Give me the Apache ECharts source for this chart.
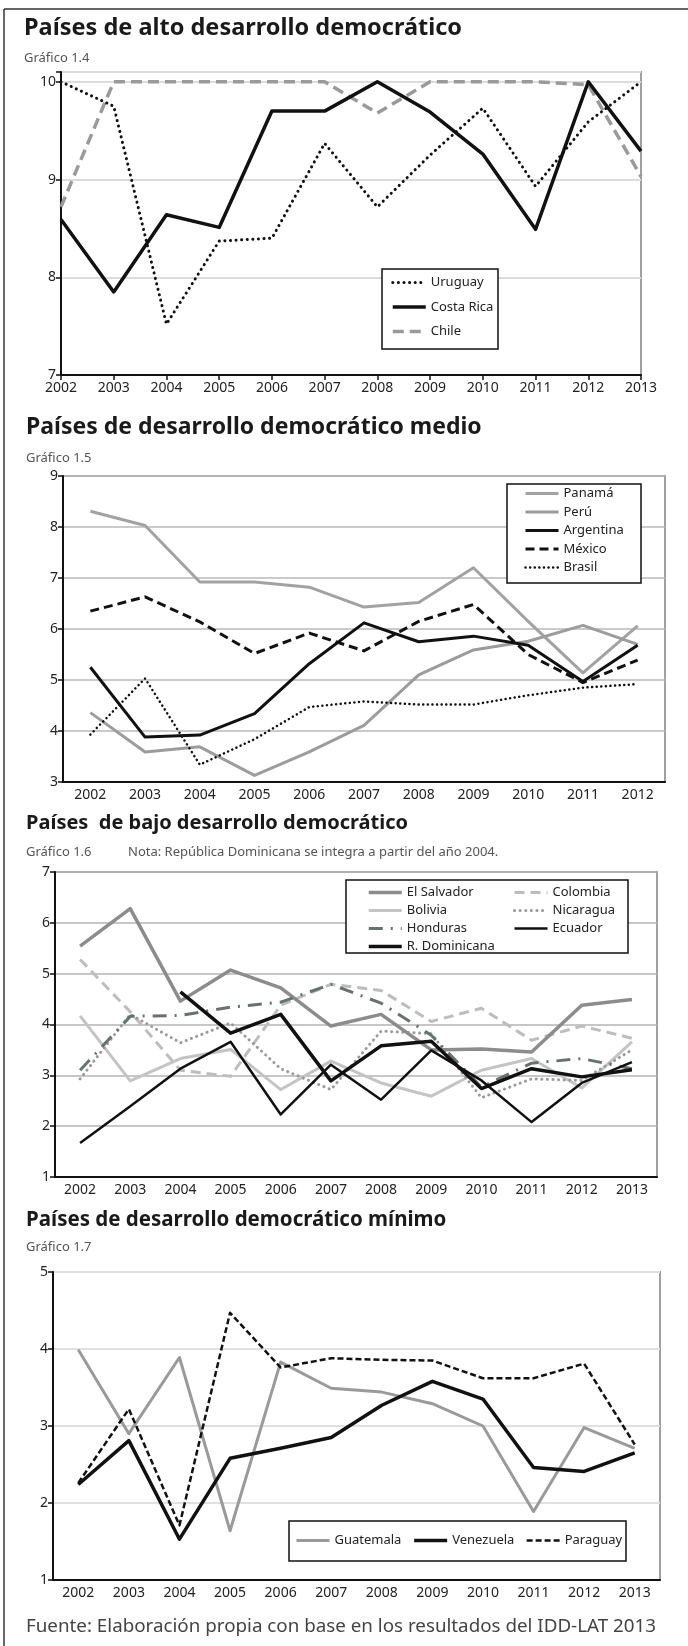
<!DOCTYPE html>
<html>
<head>
<meta charset="utf-8">
<title>Desarrollo democrático</title>
<script src="https://cdn.jsdelivr.net/npm/echarts@6/dist/echarts.min.js"></script>
<style>
html, body { margin: 0; padding: 0; background: #fff; }
#main { width: 688px; height: 1646px; }
</style>
</head>
<body>
<div id="main"></div>
<script>
// categorias
const years12 = ['2002', '2003', '2004', '2005', '2006', '2007', '2008', '2009', '2010', '2011', '2012', '2013'];
const years11 = ['2002', '2003', '2004', '2005', '2006', '2007', '2008', '2009', '2010', '2011', '2012'];

// Gráfico 1.4 - alto desarrollo
const uruguay = [10.0, 9.75, 7.52, 8.37, 8.40, 9.37, 8.72, 9.25, 9.73, 8.93, 9.59, 10.0];
const costaRica = [8.59, 7.85, 8.64, 8.51, 9.70, 9.70, 10.0, 9.69, 9.26, 8.49, 10.0, 9.29];
const chile = [8.72, 10.0, 10.0, 10.0, 10.0, 10.0, 9.68, 10.0, 10.0, 10.0, 9.97, 9.03];

// Gráfico 1.5 - desarrollo medio
const panama = [8.31, 8.03, 6.92, 6.92, 6.82, 6.43, 6.52, 7.20, 6.15, 5.14, 6.06];
const peru = [4.36, 3.59, 3.69, 3.13, 3.59, 4.11, 5.10, 5.59, 5.76, 6.07, 5.70];
const argentina = [5.25, 3.88, 3.92, 4.34, 5.32, 6.12, 5.75, 5.86, 5.68, 4.97, 5.68];
const mexico = [6.35, 6.63, 6.14, 5.52, 5.92, 5.57, 6.15, 6.48, 5.50, 4.95, 5.39];
const brasil = [3.93, 5.03, 3.34, 3.84, 4.47, 4.58, 4.52, 4.52, 4.70, 4.85, 4.92];

// Gráfico 1.6 - bajo desarrollo
const elSalvador = [5.54, 6.28, 4.46, 5.07, 4.72, 3.97, 4.20, 3.50, 3.52, 3.46, 4.38, 4.49];
const colombia = [5.28, 4.25, 3.10, 2.98, 4.38, 4.79, 4.67, 4.06, 4.32, 3.69, 3.97, 3.73];
const bolivia = [4.17, 2.89, 3.33, 3.51, 2.72, 3.28, 2.85, 2.59, 3.10, 3.33, 2.75, 3.66];
const nicaragua = [2.93, 4.20, 3.64, 4.03, 3.13, 2.72, 3.87, 3.82, 2.56, 2.93, 2.90, 3.50];
const honduras = [3.10, 4.16, 4.18, 4.34, 4.44, 4.79, 4.42, 3.79, 2.77, 3.24, 3.33, 3.13];
const ecuador = [1.67, 2.39, 3.13, 3.66, 2.23, 3.21, 2.52, 3.49, 2.90, 2.08, 2.85, 3.26];
const rDominicana = [null, null, 4.64, 3.83, 4.20, 2.89, 3.58, 3.67, 2.74, 3.13, 2.97, 3.11];

// Gráfico 1.7 - desarrollo mínimo
const guatemala = [3.99, 2.90, 3.89, 1.64, 3.83, 3.49, 3.44, 3.29, 3.00, 1.89, 2.98, 2.71];
const venezuela = [2.24, 2.81, 1.53, 2.58, 2.71, 2.85, 3.27, 3.58, 3.35, 2.46, 2.41, 2.65];
const paraguay = [2.26, 3.22, 1.71, 4.47, 3.76, 3.88, 3.86, 3.85, 3.62, 3.62, 3.81, 2.76];

const FONT = '"Noto Sans", "Open Sans", sans-serif';

const chart = echarts.init(document.getElementById('main'));

function line(name, data, idx, color, width, type, cap) {
  return {
    name: name,
    type: 'line',
    xAxisIndex: idx,
    yAxisIndex: idx,
    data: data,
    symbol: 'none',
    animation: false,
    lineStyle: { color: color, width: width, type: type || 'solid', cap: cap || 'butt', join: 'round' },
    itemStyle: { color: color }
  };
}

function xAxis(idx, data, gap) {
  return {
    type: 'category',
    gridIndex: idx,
    data: data,
    boundaryGap: gap,
    axisLine: { lineStyle: { color: '#111', width: 2 } },
    axisTick: { length: 5, lineStyle: { color: '#111', width: 1.5 } },
    axisLabel: { color: '#222', fontSize: 14, fontFamily: FONT, margin: 6, interval: 0 },
    splitLine: { show: false }
  };
}

function yAxis(idx, min, max, gridColor, gridWidth) {
  return {
    type: 'value',
    gridIndex: idx,
    min: min,
    max: max,
    interval: 1,
    axisLine: { show: true, lineStyle: { color: '#111', width: 2 } },
    axisTick: { show: true, length: 5, lineStyle: { color: '#111', width: 1.5 } },
    axisLabel: {
      color: '#222', fontSize: 14, fontFamily: FONT, margin: 5,
      formatter: function (v) { return Number.isInteger(v) ? String(v) : ''; }
    },
    splitLine: { show: true, lineStyle: { color: gridColor, width: gridWidth } }
  };
}

function legend(names, left, top, gap, orient) {
  return {
    data: names,
    left: left,
    top: top,
    orient: orient || 'vertical',
    padding: 0,
    itemGap: gap,
    itemWidth: 33,
    itemHeight: 14,
    selectedMode: false,
    itemStyle: { opacity: 0, borderWidth: 0 },
    lineStyle: { width: 'inherit' },
    textStyle: { color: '#222', fontSize: 13, fontFamily: FONT }
  };
}

function text(str, x, y, font, fill) {
  return { type: 'text', x: x, y: y, z: 10, style: { text: str, font: font, fill: fill, verticalAlign: 'middle' } };
}

function box(x, y, w, h) {
  return { type: 'rect', z: 3, shape: { x: x, y: y, width: w, height: h }, style: { fill: '#fff', stroke: '#111', lineWidth: 1.5 } };
}

const gridBase = { show: true, borderColor: '#a0a0a0', borderWidth: 2, backgroundColor: 'transparent', containLabel: false };

const option = {
  backgroundColor: '#fff',
  animation: false,
  grid: [
    Object.assign({ left: 61, right: 47, top: 72, height: 303 }, gridBase),
    Object.assign({ left: 63, right: 23, top: 476, height: 306 }, gridBase),
    Object.assign({ left: 55, right: 31, top: 872, height: 305 }, gridBase),
    Object.assign({ left: 53, right: 28, top: 1272, height: 308 }, gridBase)
  ],
  xAxis: [
    xAxis(0, years12, false),
    xAxis(1, years11, true),
    xAxis(2, years12, true),
    xAxis(3, years12, true)
  ],
  yAxis: [
    yAxis(0, 7, 10.1, '#dcdcdc', 2),
    yAxis(1, 3, 9, '#b8b8b8', 1.5),
    yAxis(2, 1, 7, '#b4b4b4', 1.5),
    yAxis(3, 1, 5, '#e0e0e0', 2)
  ],
  legend: [
    legend(['Uruguay', 'Costa Rica', 'Chile'], 391, 276, 11.5),
    legend(['Panamá', 'Perú', 'Argentina', 'México', 'Brasil'], 524, 487, 5.5),
    legend(['El Salvador', 'Bolivia', 'Honduras', 'R. Dominicana'], 367, 886, 5),
    legend(['Colombia', 'Nicaragua', 'Ecuador'], 513, 886, 5),
    legend(['Guatemala', 'Venezuela', 'Paraguay'], 295, 1534, 11, 'horizontal')
  ],
  series: [
    line('Chile', chile, 0, '#9a9a9a', 3.5, [11, 6]),
    line('Uruguay', uruguay, 0, '#111', 3, [0.1, 5.5], 'round'),
    line('Costa Rica', costaRica, 0, '#111', 3.5),

    line('Panamá', panama, 1, '#a2a2a2', 3),
    line('Perú', peru, 1, '#9c9c9c', 3),
    line('Brasil', brasil, 1, '#111', 2.5, [0.1, 4.5], 'round'),
    line('México', mexico, 1, '#111', 3, [9, 5]),
    line('Argentina', argentina, 1, '#111', 3),

    line('Colombia', colombia, 2, '#bdbdbd', 3, [10, 6]),
    line('Bolivia', bolivia, 2, '#c4c4c4', 3),
    line('Nicaragua', nicaragua, 2, '#9a9a9a', 3, [0.1, 5.5], 'round'),
    line('El Salvador', elSalvador, 2, '#8c8c8c', 3.5),
    line('Honduras', honduras, 2, '#687070', 3, [14, 8, 2, 8]),
    line('Ecuador', ecuador, 2, '#111', 2.5),
    line('R. Dominicana', rDominicana, 2, '#111', 3.5),

    line('Guatemala', guatemala, 3, '#9a9a9a', 3),
    line('Paraguay', paraguay, 3, '#111', 2.5, [6, 3]),
    line('Venezuela', venezuela, 3, '#111', 3.5)
  ],
  graphic: [
    { type: 'line', z: 10, shape: { x1: 4, y1: 9, x2: 688, y2: 9 }, style: { stroke: '#333', lineWidth: 1.5 } },
    { type: 'line', z: 10, shape: { x1: 4, y1: 9, x2: 4, y2: 1646 }, style: { stroke: '#333', lineWidth: 1.5 } },

    box(382, 269, 116, 80),
    box(507, 484, 134, 99),
    box(346, 880, 282, 73),
    box(289, 1521, 337, 40),

    text('Países de alto desarrollo democrático', 24, 28, 'bold 23.5px ' + FONT, '#1a1a1a'),
    text('Gráfico 1.4', 24, 58, '13px ' + FONT, '#555'),
    text('Países de desarrollo democrático medio', 26, 427, 'bold 23px ' + FONT, '#1a1a1a'),
    text('Gráfico 1.5', 26, 458, '13px ' + FONT, '#555'),
    text('Países  de bajo desarrollo democrático', 26, 823, 'bold 20px ' + FONT, '#1a1a1a'),
    text('Gráfico 1.6', 26, 852, '13px ' + FONT, '#555'),
    text('Nota: República Dominicana se integra a partir del año 2004.', 128, 852, '13px ' + FONT, '#555'),
    text('Países de desarrollo democrático mínimo', 26, 1220, 'bold 20.5px ' + FONT, '#1a1a1a'),
    text('Gráfico 1.7', 26, 1247, '13px ' + FONT, '#555'),
    text('Fuente: Elaboración propia con base en los resultados del IDD-LAT 2013', 26, 1627, '18.8px ' + FONT, '#444')
  ]
};

chart.setOption(option);
</script>
</body>
</html>
